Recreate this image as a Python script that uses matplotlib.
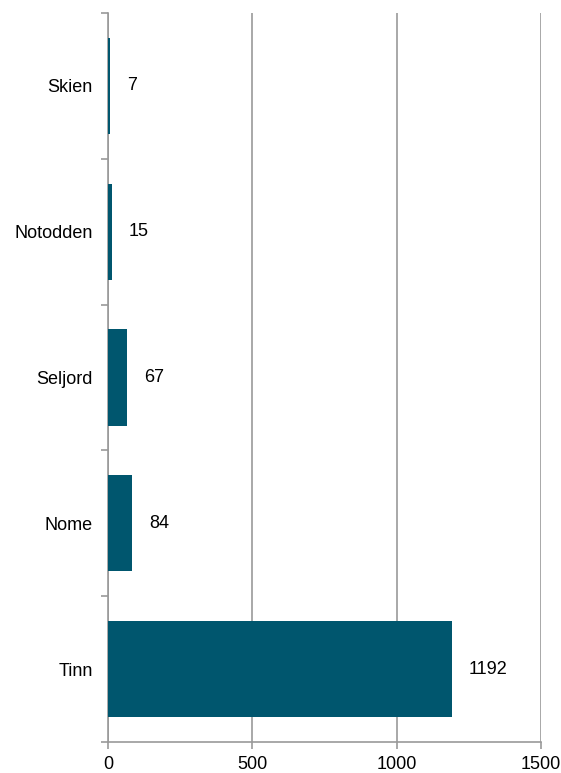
import matplotlib.pyplot as plt
import numpy as np

plt.rcParams['font.family'] = ['Liberation Sans', 'DejaVu Sans']

# data (bottom to top)
places = ["Tinn", "Nome", "Seljord", "Notodden", "Skien"]
counts = [1192, 84, 67, 15, 7]
xticks = [0, 500, 1000, 1500]

fig = plt.figure(figsize=(5.61, 7.73), dpi=100)
ax = fig.add_axes([0.1925, 0.0401, 0.7718, 0.9431])

y = np.arange(len(places))
ax.barh(y, counts, height=0.66, color="#00566e", zorder=3)

for yi, c in zip(y, counts):
    ax.annotate(str(c), (c, yi), xytext=(12, 0), textcoords="offset points",
                va="center", ha="left", fontsize=13)

ax.set_xlim(0, 1500)
ax.set_ylim(-0.5, len(places) - 0.5)
ax.set_xticks(xticks)
ax.set_xticklabels([str(t) for t in xticks], fontsize=13)
ax.set_yticks(y)
ax.set_yticklabels(places, fontsize=13)
ax.set_yticks(np.arange(-0.5, len(places)), minor=True)
ax.tick_params(axis="y", which="major", length=0, pad=11)
ax.tick_params(axis="y", which="minor", length=5, color="#999999", width=1.2)
ax.tick_params(axis="x", length=5, color="#999999", width=1.2, pad=5)

ax.xaxis.grid(True, color="#999999", linewidth=1.2, zorder=0)
for s in ["top", "right"]:
    ax.spines[s].set_visible(False)
for s in ["left", "bottom"]:
    ax.spines[s].set_color("#999999")
    ax.spines[s].set_linewidth(1.2)

fig.savefig("out.png", dpi=100)
